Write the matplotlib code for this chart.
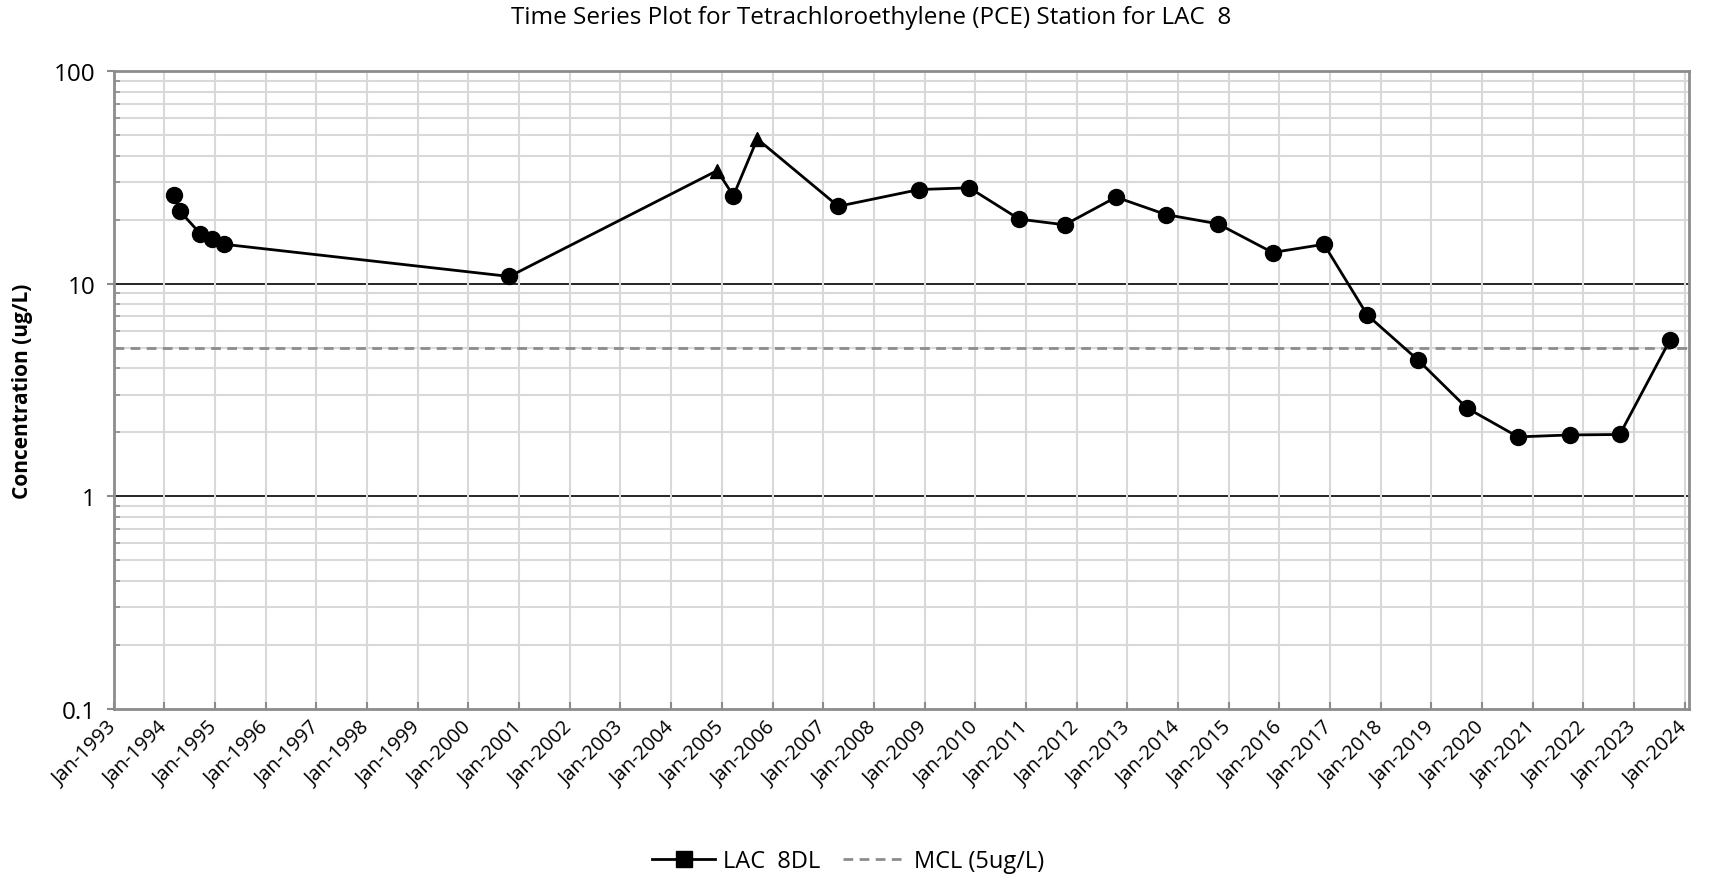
import matplotlib
matplotlib.use("Agg")
import matplotlib.pyplot as plt
import matplotlib.dates as mdates
from matplotlib.lines import Line2D
from matplotlib.ticker import LogLocator, FixedLocator, NullFormatter
import numpy as np
import pandas as pd

# PCE sample results for station LAC 8
sample_dates = [
    "1994-03-15", "1994-04-23", "1994-09-16", "1994-12-08", "1995-03-10",
    "2000-10-23", "2004-11-28", "2005-03-25", "2005-09-13", "2007-04-20",
    "2008-11-24", "2009-11-20", "2010-11-14", "2011-10-08", "2012-10-12",
    "2013-10-08", "2014-10-16", "2015-11-14", "2016-11-18", "2017-09-27",
    "2018-09-27", "2019-09-13", "2020-09-17", "2021-09-24", "2022-09-20",
    "2023-09-17",
]
pce_ugL = [
    26.2, 21.9, 17.2, 16.2, 15.3,
    10.8, 34.0, 25.9, 47.9, 23.1,
    27.7, 28.2, 20.1, 18.9, 25.5,
    21.1, 19.1, 14.0, 15.3, 7.1,
    4.37, 2.6, 1.9, 1.94, 1.95,
    5.43,
]
# "^" marks the flagged results, "o" the regular ones
point_shape = [
    "o", "o", "o", "o", "o",
    "o", "^", "o", "^", "o",
    "o", "o", "o", "o", "o",
    "o", "o", "o", "o", "o",
    "o", "o", "o", "o", "o",
    "o",
]
mcl_ugL = 5.0
y_ticks = [0.1, 1, 10, 100]
y_tick_labels = ["0.1", "1", "10", "100"]
x_start, x_end = "1993-01-01", "2024-02-03"
title_text = "Time Series Plot for Tetrachloroethylene (PCE) Station for LAC  8"
series_label = "LAC  8DL"
mcl_label = "MCL (5ug/L)"

plt.rcParams["font.family"] = ["Open Sans", "DejaVu Sans"]

dates = pd.to_datetime(sample_dates)
values = np.array(pce_ugL)
shapes = np.array(point_shape)

W, H = 1709, 879
fig = plt.figure(figsize=(W / 100, H / 100), dpi=100)
ax = fig.add_axes([113.7 / W, 1 - 709.7 / H, (1689.3 - 113.7) / W, (709.7 - 72) / H])

ax.set_yscale("log")
ax.set_ylim(0.1, 100)
ax.set_xlim(pd.Timestamp(x_start), pd.Timestamp(x_end))

grid_c = "#d9d9d9"
axis_c = "#8c8c8c"

# light grid: each January and each 2..9 step of a decade
ax.xaxis.set_major_locator(mdates.YearLocator(1, month=1, day=1))
ax.xaxis.set_major_formatter(mdates.DateFormatter("Jan-%Y"))
ax.grid(True, axis="x", which="major", color=grid_c, linewidth=1.5, zorder=0)
ax.yaxis.set_major_locator(FixedLocator(y_ticks))
ax.set_yticklabels(y_tick_labels)
ax.yaxis.set_minor_locator(LogLocator(base=10, subs=np.arange(2, 10)))
ax.yaxis.set_minor_formatter(NullFormatter())
ax.grid(True, axis="y", which="minor", color=grid_c, linewidth=1.5, zorder=0)
for v in (1, 10):
    ax.axhline(v, color="black", linewidth=1.2, zorder=1)

for s in ax.spines.values():
    s.set_color(axis_c)
    s.set_linewidth(2)

ax.tick_params(axis="x", which="major", direction="in", length=5, width=1.5,
               color=axis_c, labelsize=14.5, pad=11)
ax.tick_params(axis="y", which="major", direction="out", length=5, width=1.5,
               color=axis_c, labelsize=17.5, pad=8)
ax.tick_params(axis="y", which="minor", direction="in", length=4, width=1.2,
               color=axis_c)
for lab in ax.get_xticklabels():
    lab.set_rotation(45)
    lab.set_ha("right")
    lab.set_va("center")
    lab.set_rotation_mode("anchor")

# MCL reference line
ax.axhline(mcl_ugL, color="#8c8c8c", linewidth=2.0, dashes=(3.5, 2.3), zorder=2)

# measured series
ax.plot(dates, values, color="black", linewidth=2.0, zorder=3)
for shp, ms in (("o", 11.5), ("^", 10.5)):
    sel = shapes == shp
    ax.plot(dates[sel], values[sel], linestyle="none", marker=shp,
            markersize=ms, color="black", zorder=4)

ax.set_ylabel("Concentration (ug/L)", fontsize=15, fontweight="bold")
ax.yaxis.set_label_coords((33 - 113.7) / (1689.3 - 113.7), 0.5)

fig.text(871 / W, 1 - 18.3 / H, title_text, ha="center", va="center", fontsize=17.5)

handles = [
    Line2D([], [], color="black", linewidth=2.0, marker="s", markersize=11),
    Line2D([], [], color="#8c8c8c", linewidth=2.0, dashes=(3.5, 2.3)),
]
fig.legend(handles, [series_label, mcl_label], loc="center",
           bbox_to_anchor=(848 / W, 1 - 862 / H), ncol=2, frameon=False,
           fontsize=17, handlelength=2.7, handletextpad=0.3, columnspacing=1.0)

fig.savefig("out.png", dpi=100)
